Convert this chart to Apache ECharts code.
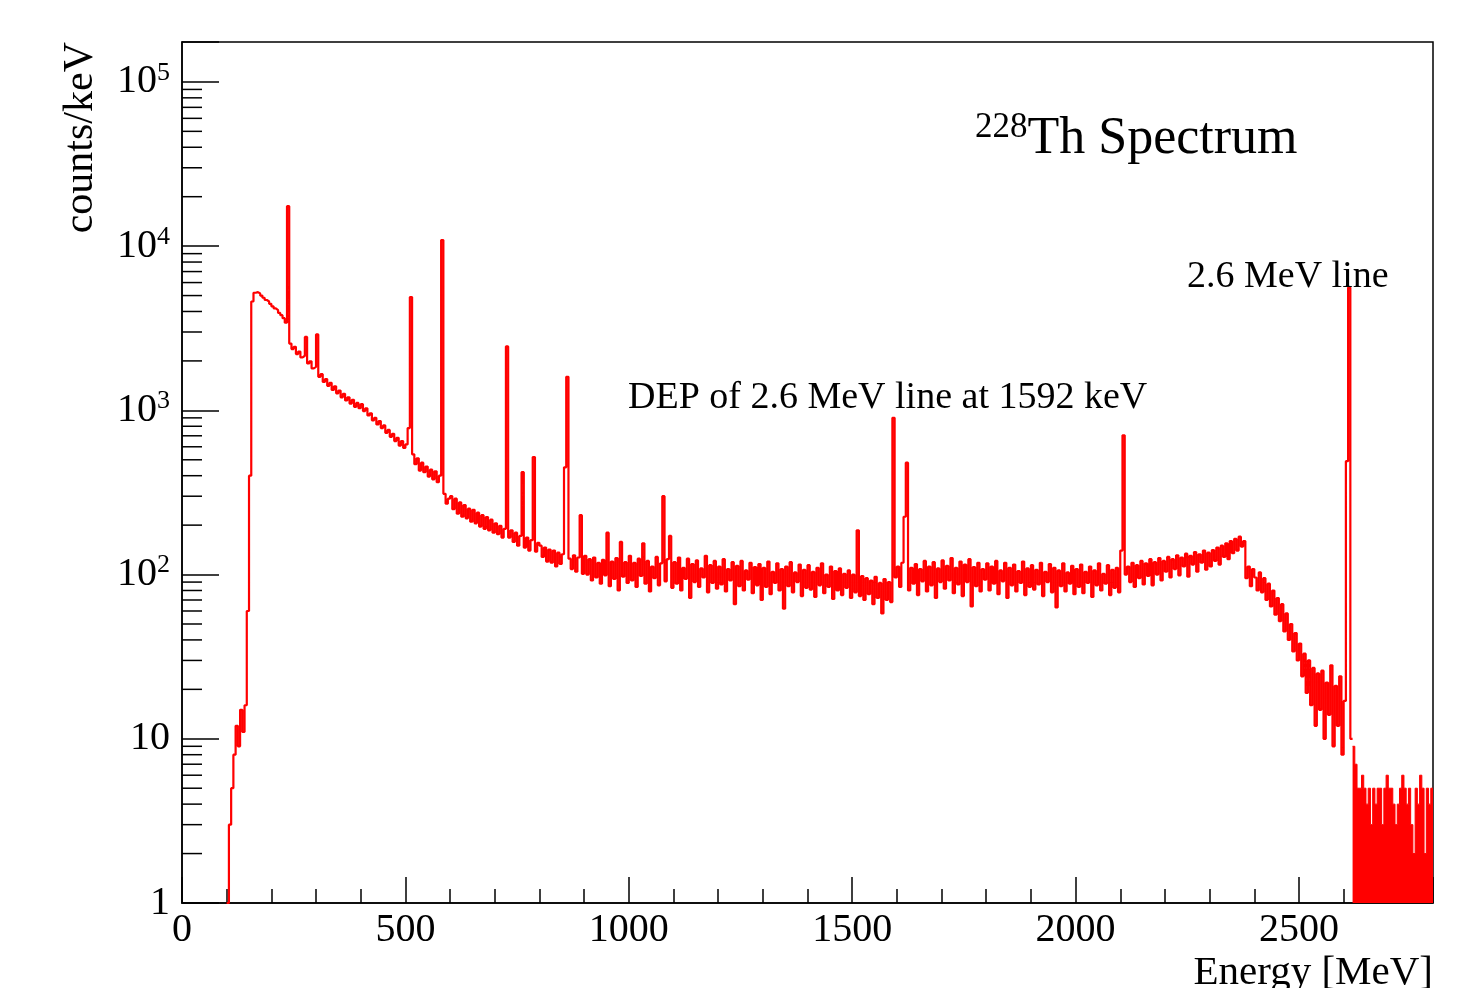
<!DOCTYPE html>
<html><head><meta charset="utf-8">
<script src="https://cdn.jsdelivr.net/npm/echarts@6/dist/echarts.min.js"></script>
<style>html,body{margin:0;padding:0;background:#fff}#c{width:1473px;height:988px}</style>
</head><body><div id="c"></div>
<script>
// Histogram: 5 keV bins, values are counts/keV
const binWidth = 5;
const mainStart = 100;   // keV, first bin lower edge of the main spectrum
const tailStart = 2620;  // keV, first bin of the sparse tail above the 2614 keV line
const xMax = 2800;

// 100 - 395 keV
const lowEnergyCounts = [
  1,3,5,8,12,9,15,11,16,60,400,4600,5200,5250,5150,5000,4850,4700,4600,4450,
  4300,4180,4080,3920,3800,3640,3420,17500,2550,2360,2440,2200,2280,2100,2150,2800,1930,1990,1800,1840,
  2900,1600,1660,1490,1550,1410,1470,1330,1400,1270,1320,1200,1260,1150,1200,1100,1160,1050,1110,1030
];
// 400 - 995 keV
const comptonCounts = [
  1090,990,1030,930,960,870,900,820,860,780,810,730,760,690,720,650,680,610,650,590,
  620,780,4900,540,470,510,430,480,420,455,395,435,380,425,365,400,10900,310,270,290,
  300,250,290,235,275,225,265,220,252,210,248,205,238,196,230,190,224,186,216,180,
  205,176,198,168,190,2450,168,186,158,180,150,172,420,146,168,140,162,520,138,156,
  150,128,146,120,142,118,140,112,136,116,133,450,1600,125,108,131,104,127,230,101,
  130,100,124,92,127,96,118,88,123,99,180,85,120,94,126,80,158,97,119,89
];
// 1000 - 2095 keV
const flatCounts = [
  130,92,118,84,125,98,155,88,121,79,112,95,128,86,117,300,91,124,172,83,
  119,88,127,80,110,94,125,72,116,90,122,84,109,96,130,78,114,89,121,82,
  112,87,124,79,108,92,119,66,113,85,121,80,106,93,118,77,111,86,116,70,
  110,84,120,76,104,89,117,80,108,62,112,85,119,78,103,90,115,74,107,83,
  114,81,104,73,110,86,117,77,100,84,112,71,105,80,109,75,101,83,106,72,
  100,78,186,74,98,70,95,76,92,66,97,72,89,58,94,70,90,68,900,96,
  112,84,118,225,480,80,110,88,116,75,108,91,121,79,112,86,119,72,109,90,
  122,82,113,92,126,77,110,87,120,74,115,90,124,64,111,85,118,79,108,93,
  117,80,112,88,121,76,106,91,118,72,110,86,115,79,105,89,120,75,109,84,
  114,81,107,87,118,74,104,90,116,78,110,63,106,85,117,79,103,88,113,76,
  108,84,115,77,104,89,112,73,106,86,117,80,101,88,114,75,107,83,110,78
];
// 2100 - 2615 keV
const edgeCounts = [
  140,705,100,112,90,118,84,114,95,121,87,117,98,124,86,119,100,126,92,121,
  104,128,96,124,108,131,99,127,112,134,97,130,115,137,104,133,118,140,107,136,
  112,141,121,146,115,150,128,155,124,160,135,165,140,170,148,160,95,112,85,108,
  96,80,103,78,95,70,88,64,80,57,72,52,66,45,58,40,50,34,44,30,
  38,24,33,19,30,16,27,12,25,15,26,10,22,14,28,9,21,12,24,8,
  17,490,5600,10
];
// 2620 - 2795 keV
const tailCounts = [9,7,5,5,6,5,4,5,3,5,4,5,5,3,5,6,5,5,4,3,4,5,6,5,4,5,3,2,5,4,6,5,2,5,4,5];

const titleText = '{sup|228}{main|Th Spectrum}';
const depLabel = 'DEP of 2.6 MeV line at 1592 keV';
const lineLabel = '2.6 MeV line';
const xName = 'Energy [MeV]';
const yName = 'counts/keV';

const FONT = 'Liberation Serif';

const mainCounts = lowEnergyCounts.concat(comptonCounts, flatCounts, edgeCounts);
const mainData = mainCounts.map((v, i) => [mainStart + i * binWidth, v]);
mainData.push([mainStart + mainCounts.length * binWidth, mainCounts[mainCounts.length - 1]]);
const tailData = tailCounts.map((v, i) => [tailStart + i * binWidth, v]);
tailData.push([xMax, tailCounts[tailCounts.length - 1]]);

// log-axis minor tick values (2..9 x 10^k)
const yMinorTicks = [];
for (let k = 0; k <= 4; k++) for (let m = 2; m <= 9; m++) yMinorTicks.push([0, m * Math.pow(10, k)]);

const chart = echarts.init(document.getElementById('c'), null, {renderer: 'canvas'});
chart.setOption({
  animation: false,
  backgroundColor: '#fff',
  title: [
    {text: titleText, left: 975, top: 110, padding: 0,
      textStyle: {fontWeight: 'normal', rich: {
        sup: {fontFamily: FONT, fontSize: 35, fontWeight: 'normal', lineHeight: 26, verticalAlign: 'top', color: '#000'},
        main: {fontFamily: FONT, fontSize: 52, fontWeight: 'normal', lineHeight: 58, color: '#000'}
      }}},
    {text: lineLabel, left: 1187, top: 258, padding: 0,
      textStyle: {fontFamily: FONT, fontSize: 38, fontWeight: 'normal', color: '#000'}},
    {text: depLabel, left: 628, top: 379, padding: 0,
      textStyle: {fontFamily: FONT, fontSize: 38, fontWeight: 'normal', color: '#000'}}
  ],
  grid: {left: 182, right: 40, top: 42, bottom: 85, show: true, borderColor: '#000', borderWidth: 1.5,
    backgroundColor: 'transparent', containLabel: false, outerBoundsMode: 'none'},
  xAxis: [
    {type: 'value', position: 'bottom', min: 0, max: xMax, interval: 500,
      axisLine: {show: true, onZero: false, lineStyle: {color: '#000', width: 1.5}},
      axisTick: {show: true, inside: true, length: 26, lineStyle: {color: '#000', width: 1.5}},
      axisLabel: {fontFamily: FONT, fontSize: 40, color: '#000', margin: 7,
        formatter: v => (v % 500 === 0 ? String(v) : '')},
      splitLine: {show: false},
      name: xName, nameLocation: 'end', nameGap: 0, nameMoveOverlap: false,
      nameTextStyle: {fontFamily: FONT, fontSize: 41, color: '#000', align: 'right', verticalAlign: 'top', padding: [50, 0, 0, 0]}
    },
    {type: 'value', position: 'bottom', min: 0, max: xMax, interval: 100,
      axisLine: {show: false},
      axisTick: {show: true, inside: true, length: 14, lineStyle: {color: '#000', width: 1.5}},
      axisLabel: {show: false},
      splitLine: {show: false}
    }
  ],
  yAxis: {
    type: 'log', logBase: 10, min: 1, max: 175000,
    axisLine: {show: true, lineStyle: {color: '#000', width: 1.5}},
    axisTick: {show: true, inside: true, length: 37, lineStyle: {color: '#000', width: 1.5}},
    axisLabel: {fontFamily: FONT, fontSize: 40, color: '#000', margin: 12,
      formatter: v => {
        const e = Math.round(Math.log10(v));
        if (Math.abs(v - Math.pow(10, e)) > 1e-6 * v) return '';
        if (e === 0) return '1';
        if (e === 1) return '10';
        return '{b|10}{s|' + e + '}';
      },
      rich: {
        b: {fontFamily: FONT, fontSize: 40, lineHeight: 44, color: '#000'},
        s: {fontFamily: FONT, fontSize: 26, lineHeight: 30, verticalAlign: 'top', color: '#000'}
      }
    },
    splitLine: {show: false},
    name: yName, nameLocation: 'end', nameRotate: 90, nameGap: 0, nameMoveOverlap: false,
    nameTextStyle: {fontFamily: FONT, fontSize: 42, color: '#000', align: 'right', verticalAlign: 'bottom', padding: [0, 0, 80, 0]}
  },
  series: [
    {type: 'line', name: 'spectrum', xAxisIndex: 0, data: mainData, step: 'end', showSymbol: false, symbol: 'none',
      lineStyle: {color: '#ff0000', width: 2.2}, itemStyle: {color: '#ff0000'}, clip: true},
    {type: 'line', name: 'tail', xAxisIndex: 0, data: tailData, step: 'end', showSymbol: false, symbol: 'none',
      lineStyle: {color: '#ff0000', width: 1}, itemStyle: {color: '#ff0000'},
      areaStyle: {color: '#ff0000', opacity: 1, origin: 'start'}, clip: true},
    {type: 'custom', name: 'yMinorTicks', xAxisIndex: 0, data: yMinorTicks, silent: true,
      renderItem: (params, api) => {
        const p = api.coord([0, api.value(1)]);
        return {type: 'line', shape: {x1: p[0], y1: p[1], x2: p[0] + 20, y2: p[1]},
          style: {stroke: '#000', lineWidth: 1.5}};
      }}
  ]
});
</script></body></html>
